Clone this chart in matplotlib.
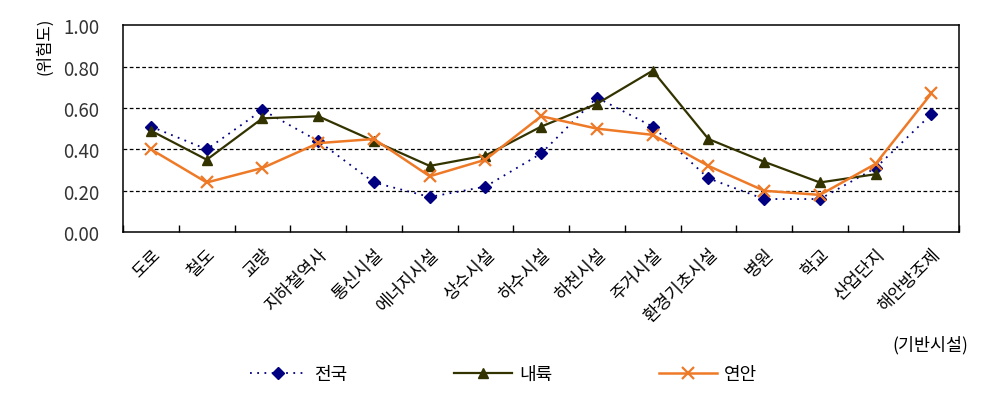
import numpy as np
import matplotlib
matplotlib.use("Agg")
import matplotlib.pyplot as plt

plt.rcParams['font.family'] = ['Noto Sans CJK KR', 'DejaVu Sans']

categories = ["도로", "철도", "교량", "지하철역사", "통신시설", "에너지시설", "상수시설",
              "하수시설", "하천시설", "주거시설", "환경기초시설", "병원", "학교", "산업단지", "해안방조제"]
national = [0.51, 0.40, 0.59, 0.44, 0.24, 0.17, 0.22, 0.38, 0.65, 0.51, 0.26, 0.16, 0.16, 0.31, 0.57]
inland = [0.49, 0.35, 0.55, 0.56, 0.44, 0.32, 0.37, 0.51, 0.62, 0.78, 0.45, 0.34, 0.24, 0.28, np.nan]
coastal = [0.40, 0.24, 0.31, 0.43, 0.45, 0.27, 0.35, 0.56, 0.50, 0.47, 0.32, 0.20, 0.18, 0.33, 0.67]

fig = plt.figure(figsize=(9.93, 4.02), dpi=100)
ax = fig.add_axes([0.124, 0.42, 0.842, 0.515])

x = np.arange(len(categories))
ax.plot(x, national, linestyle=(0, (1, 3)), color="#000080", lw=1.3,
        marker="D", markersize=6, label="전국")
ax.plot(x, inland, linestyle="-", color="#333300", lw=1.6,
        marker="^", markersize=7, label="내륙")
ax.plot(x, coastal, linestyle="-", color="#EE7A28", lw=1.8,
        marker="x", markersize=8, markeredgewidth=1.6, label="연안")

ax.set_xlim(-0.5, len(categories) - 0.5)
ax.set_ylim(0, 1.0)
ax.set_yticks(np.arange(0, 1.01, 0.2))
ax.set_yticklabels([f"{v:.2f}" for v in np.arange(0, 1.01, 0.2)], fontsize=13.5, color="#333333")
ax.tick_params(axis="y", length=0, pad=17)
for yv in [0.2, 0.4, 0.6, 0.8]:
    ax.axhline(yv, color="black", lw=0.9, linestyle=(0, (3, 2)), zorder=0)

ax.set_xticks(np.arange(-0.5, len(categories), 1.0), minor=False)
ax.set_xticklabels([])
ax.tick_params(axis="x", direction="in", length=5, width=1)
ax.set_xticks(x, minor=True)
ax.set_xticklabels(categories, minor=True, rotation=45, ha="right", va="top",
                   rotation_mode="anchor", fontsize=12.5)
ax.tick_params(axis="x", which="minor", length=0, pad=9)

for s in ax.spines.values():
    s.set_linewidth(1.1)

fig.text(0.045, 0.955, "(위험도)", rotation=90, fontsize=12, ha="center", va="top")
fig.text(0.975, 0.14, "(기반시설)", fontsize=12.5, ha="right", va="center")

fig.legend(loc="center", bbox_to_anchor=(0.507, 0.067), ncol=3, frameon=False,
           fontsize=13, handlelength=3.2, columnspacing=5.9, handletextpad=0.4)

fig.savefig("out.png", dpi=100)
